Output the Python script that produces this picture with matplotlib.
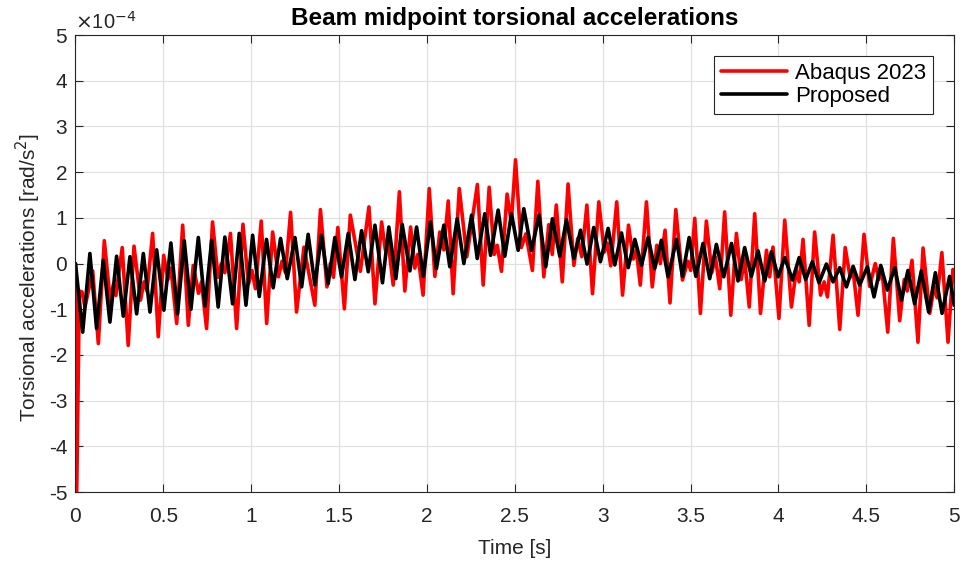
import matplotlib
matplotlib.use("Agg")
import matplotlib.pyplot as plt

plt.rcParams['font.family'] = ['Liberation Sans', 'DejaVu Sans']
plt.rcParams['axes.unicode_minus'] = False

# ---- data (values in units of 1e-4 rad/s^2) ----
red_t = [0.000, 0.007, 0.022, 0.037, 0.054, 0.098, 0.130, 0.164, 0.199, 0.216, 0.230, 0.266,
         0.300, 0.333, 0.370, 0.390, 0.407, 0.439, 0.471, 0.502, 0.526, 0.543, 0.576, 0.610,
         0.642, 0.670, 0.700, 0.717, 0.746, 0.780, 0.811, 0.830, 0.850, 0.882, 0.917, 0.953,
         0.984, 1.004, 1.024, 1.057, 1.088, 1.122, 1.155, 1.175, 1.195, 1.224, 1.258, 1.300,
         1.362, 1.394, 1.431, 1.450, 1.468, 1.493, 1.530, 1.564, 1.621, 1.670, 1.704, 1.742,
         1.763, 1.780, 1.808, 1.843, 1.874, 1.907, 1.931, 1.948, 1.978, 2.013, 2.045, 2.073,
         2.096, 2.121, 2.149, 2.184, 2.227, 2.287, 2.320, 2.354, 2.383, 2.400, 2.424, 2.456,
         2.480, 2.504, 2.537, 2.563, 2.600, 2.631, 2.665, 2.693, 2.713, 2.736, 2.770, 2.803,
         2.836, 2.858, 2.881, 2.910, 2.942, 2.978, 3.009, 3.026, 3.046, 3.080, 3.113, 3.147,
         3.174, 3.191, 3.214, 3.249, 3.282, 3.308, 3.328, 3.355, 3.383, 3.416, 3.454, 3.484,
         3.501, 3.524, 3.556, 3.590, 3.621, 3.641, 3.666, 3.694, 3.729, 3.761, 3.788, 3.808,
         3.834, 3.865, 3.898, 3.932, 3.950, 3.969, 4.003, 4.036, 4.074, 4.101, 4.118, 4.140,
         4.175, 4.206, 4.240, 4.260, 4.279, 4.311, 4.349, 4.380, 4.408, 4.425, 4.453, 4.487,
         4.519, 4.551, 4.571, 4.588, 4.622, 4.654, 4.690, 4.716, 4.733, 4.760, 4.794, 4.823,
         4.861, 4.886, 4.903, 4.930, 4.965, 4.993, 5.000]
red_v = [0.0, -5.0, -0.6, -0.62, -0.95, -0.16, -1.75, 0.50, -0.85, -0.45, -0.7, 0.35,
         -1.79, 0.38, -0.8, -0.4, -0.6, 0.66, -1.6, 0.18, -0.35, -0.1, -1.31, 0.84,
         -1.35, -0.04, -0.65, -0.4, -1.42, 0.91, -0.3, 0.0, -0.2, 0.66, -1.42, 0.86,
         -0.45, -0.15, -0.55, 0.93, -1.31, 0.69, -0.29, 0.05, -0.2, 1.12, -1.06, 0.36,
         -0.91, 1.18, -0.51, 0.0, -0.3, 0.79, -0.99, 1.06, -0.17, 1.24, -0.88, 0.91,
         0.3, 0.45, -0.47, 1.57, -0.6, 0.8, -0.1, 0.2, -0.69, 1.64, -0.28, 0.69,
         0.3, 1.37, -0.66, 1.64, 0.15, 1.73, -0.47, 1.67, 0.2, 0.4, -0.17, 1.52,
         0.9, 2.27, 0.35, 0.65, -0.15, 1.8, -0.29, 0.85, 0.2, 1.28, -0.4, 1.74,
         -0.04, 0.55, 0.15, 1.28, -0.66, 1.35, 0.25, 0.45, -0.05, 1.35, -0.69, 0.84,
         0.1, 0.3, -0.47, 1.35, -0.51, 0.4, 0.0, 0.73, -0.86, 1.18, -0.36, 0.05,
         -0.15, 0.99, -1.09, 0.93, -0.2, 0.15, -0.55, 1.13, -1.13, 0.66, -0.35, 0.1,
         -0.95, 1.09, -1.09, 0.29, -0.29, 0.36, -1.2, 0.95, -0.95, -0.15, -0.4, 0.53,
         -1.35, 0.69, -0.69, -0.4, -0.73, 0.62, -1.44, 0.35, -0.3, -0.15, -1.13, 0.64,
         -0.5, 0.0, -0.35, -0.1, -1.5, 0.55, -1.25, -0.35, -0.6, 0.07, -1.72, 0.34,
         -1.09, -0.5, -0.75, 0.24, -1.72, -0.13, -0.25]

black_t = [0.000, 0.041, 0.082, 0.120, 0.158, 0.196, 0.234, 0.272, 0.310, 0.348, 0.386, 0.424,
           0.462, 0.503, 0.543, 0.581, 0.619, 0.657, 0.699, 0.737, 0.775, 0.812, 0.850, 0.894,
           0.932, 0.970, 1.008, 1.046, 1.087, 1.125, 1.167, 1.205, 1.249, 1.287, 1.324, 1.362,
           1.400, 1.438, 1.476, 1.514, 1.552, 1.590, 1.628, 1.666, 1.704, 1.747, 1.783, 1.823,
           1.859, 1.903, 1.941, 1.979, 2.020, 2.054, 2.096, 2.130, 2.172, 2.210, 2.254, 2.286,
           2.329, 2.362, 2.405, 2.443, 2.481, 2.519, 2.551, 2.595, 2.638, 2.676, 2.714, 2.756,
           2.794, 2.836, 2.874, 2.911, 2.949, 2.987, 3.031, 3.069, 3.107, 3.145, 3.183, 3.221,
           3.258, 3.296, 3.334, 3.372, 3.420, 3.454, 3.492, 3.530, 3.571, 3.609, 3.647, 3.689,
           3.733, 3.770, 3.808, 3.846, 3.884, 3.922, 3.960, 3.998, 4.036, 4.080, 4.118, 4.155,
           4.193, 4.231, 4.273, 4.311, 4.349, 4.387, 4.425, 4.462, 4.506, 4.544, 4.582, 4.620,
           4.662, 4.700, 4.737, 4.775, 4.813, 4.855, 4.893, 4.931, 4.974, 5.000]
black_v = [0.0, -1.5, 0.22, -1.42, 0.07, -1.28, 0.16, -1.15, 0.15, -1.1, 0.22, -1.06,
           0.30, -1.02, 0.45, -1.10, 0.50, -1.0, 0.57, -0.93, 0.51, -0.95, 0.58, -0.88,
           0.66, -0.91, 0.62, -0.72, 0.53, -0.53, 0.55, -0.33, 0.57, -0.51, 0.64, -0.47,
           0.62, -0.44, 0.57, -0.29, 0.66, -0.35, 0.72, -0.18, 0.84, -0.42, 0.80, -0.33,
           0.86, -0.16, 0.80, -0.28, 0.91, -0.11, 0.84, -0.07, 0.98, 0.0, 1.06, 0.11,
           1.09, 0.18, 1.17, 0.16, 1.09, 0.29, 1.20, 0.29, 1.06, -0.07, 0.98, 0.16,
           0.96, 0.11, 0.73, -0.01, 0.79, 0.04, 0.77, -0.03, 0.67, -0.09, 0.53, -0.04,
           0.57, -0.11, 0.51, -0.29, 0.53, -0.28, 0.57, -0.28, 0.44, -0.33, 0.42, -0.29,
           0.44, -0.38, 0.35, -0.28, 0.28, -0.38, 0.26, -0.29, 0.13, -0.36, 0.13, -0.35,
           0.04, -0.42, -0.01, -0.40, -0.09, -0.51, -0.06, -0.47, -0.07, -0.73, -0.04, -0.58,
           -0.09, -0.80, -0.15, -0.88, -0.16, -1.06, -0.20, -1.09, -0.28, -0.91]

x_ticks = [0, 0.5, 1, 1.5, 2, 2.5, 3, 3.5, 4, 4.5, 5]
x_tick_labels = ["0", "0.5", "1", "1.5", "2", "2.5", "3", "3.5", "4", "4.5", "5"]
y_ticks = [-5, -4, -3, -2, -1, 0, 1, 2, 3, 4, 5]
y_tick_labels = ["-5", "-4", "-3", "-2", "-1", "0", "1", "2", "3", "4", "5"]

# ---- figure ----
fig = plt.figure(figsize=(9.64, 5.65), dpi=100)
ax = fig.add_axes([0.0783, 0.129, 0.9115, 0.809])

ax.plot(red_t, red_v, color='#ff0000', lw=2.6, label='Abaqus 2023',
        solid_joinstyle='round', solid_capstyle='round')
ax.plot(black_t, black_v, color='#000000', lw=2.6, label='Proposed',
        solid_joinstyle='round', solid_capstyle='round')

ax.set_xlim(0, 5)
ax.set_ylim(-5, 5)
ax.set_xticks(x_ticks)
ax.set_xticklabels(x_tick_labels)
ax.set_yticks(y_ticks)
ax.set_yticklabels(y_tick_labels)
ax.tick_params(direction='in', top=True, right=True, labelsize=15, length=6,
               color='#262626', labelcolor='#262626')
ax.tick_params(axis='x', pad=11)
ax.tick_params(axis='y', pad=6)
ax.grid(True, color='#e0e0e0', lw=0.9)
ax.set_axisbelow(True)
for s in ax.spines.values():
    s.set_color('#262626')
    s.set_linewidth(0.8)

ax.set_xlabel('Time [s]', fontsize=15, color='#262626', labelpad=9)
ax.set_ylabel('Torsional accelerations [rad/s$^2$]', fontsize=15, color='#262626')
ax.yaxis.set_label_coords(-0.037, 0.47)
ax.set_title('Beam midpoint torsional accelerations', fontsize=17.5, fontweight='bold', pad=7)
ax.text(0.0, 1.004, r'$\times$10$^{-4}$', transform=ax.transAxes, fontsize=14.5,
        color='#262626', ha='left', va='bottom')

leg = ax.legend(loc='upper right', fontsize=16, frameon=True, fancybox=False,
                edgecolor='#262626', framealpha=1, handlelength=3.0, handletextpad=0.35,
                borderaxespad=0.95, borderpad=0.3, labelspacing=0.1)
leg.get_frame().set_linewidth(0.8)

fig.savefig('out.png', dpi=100)
